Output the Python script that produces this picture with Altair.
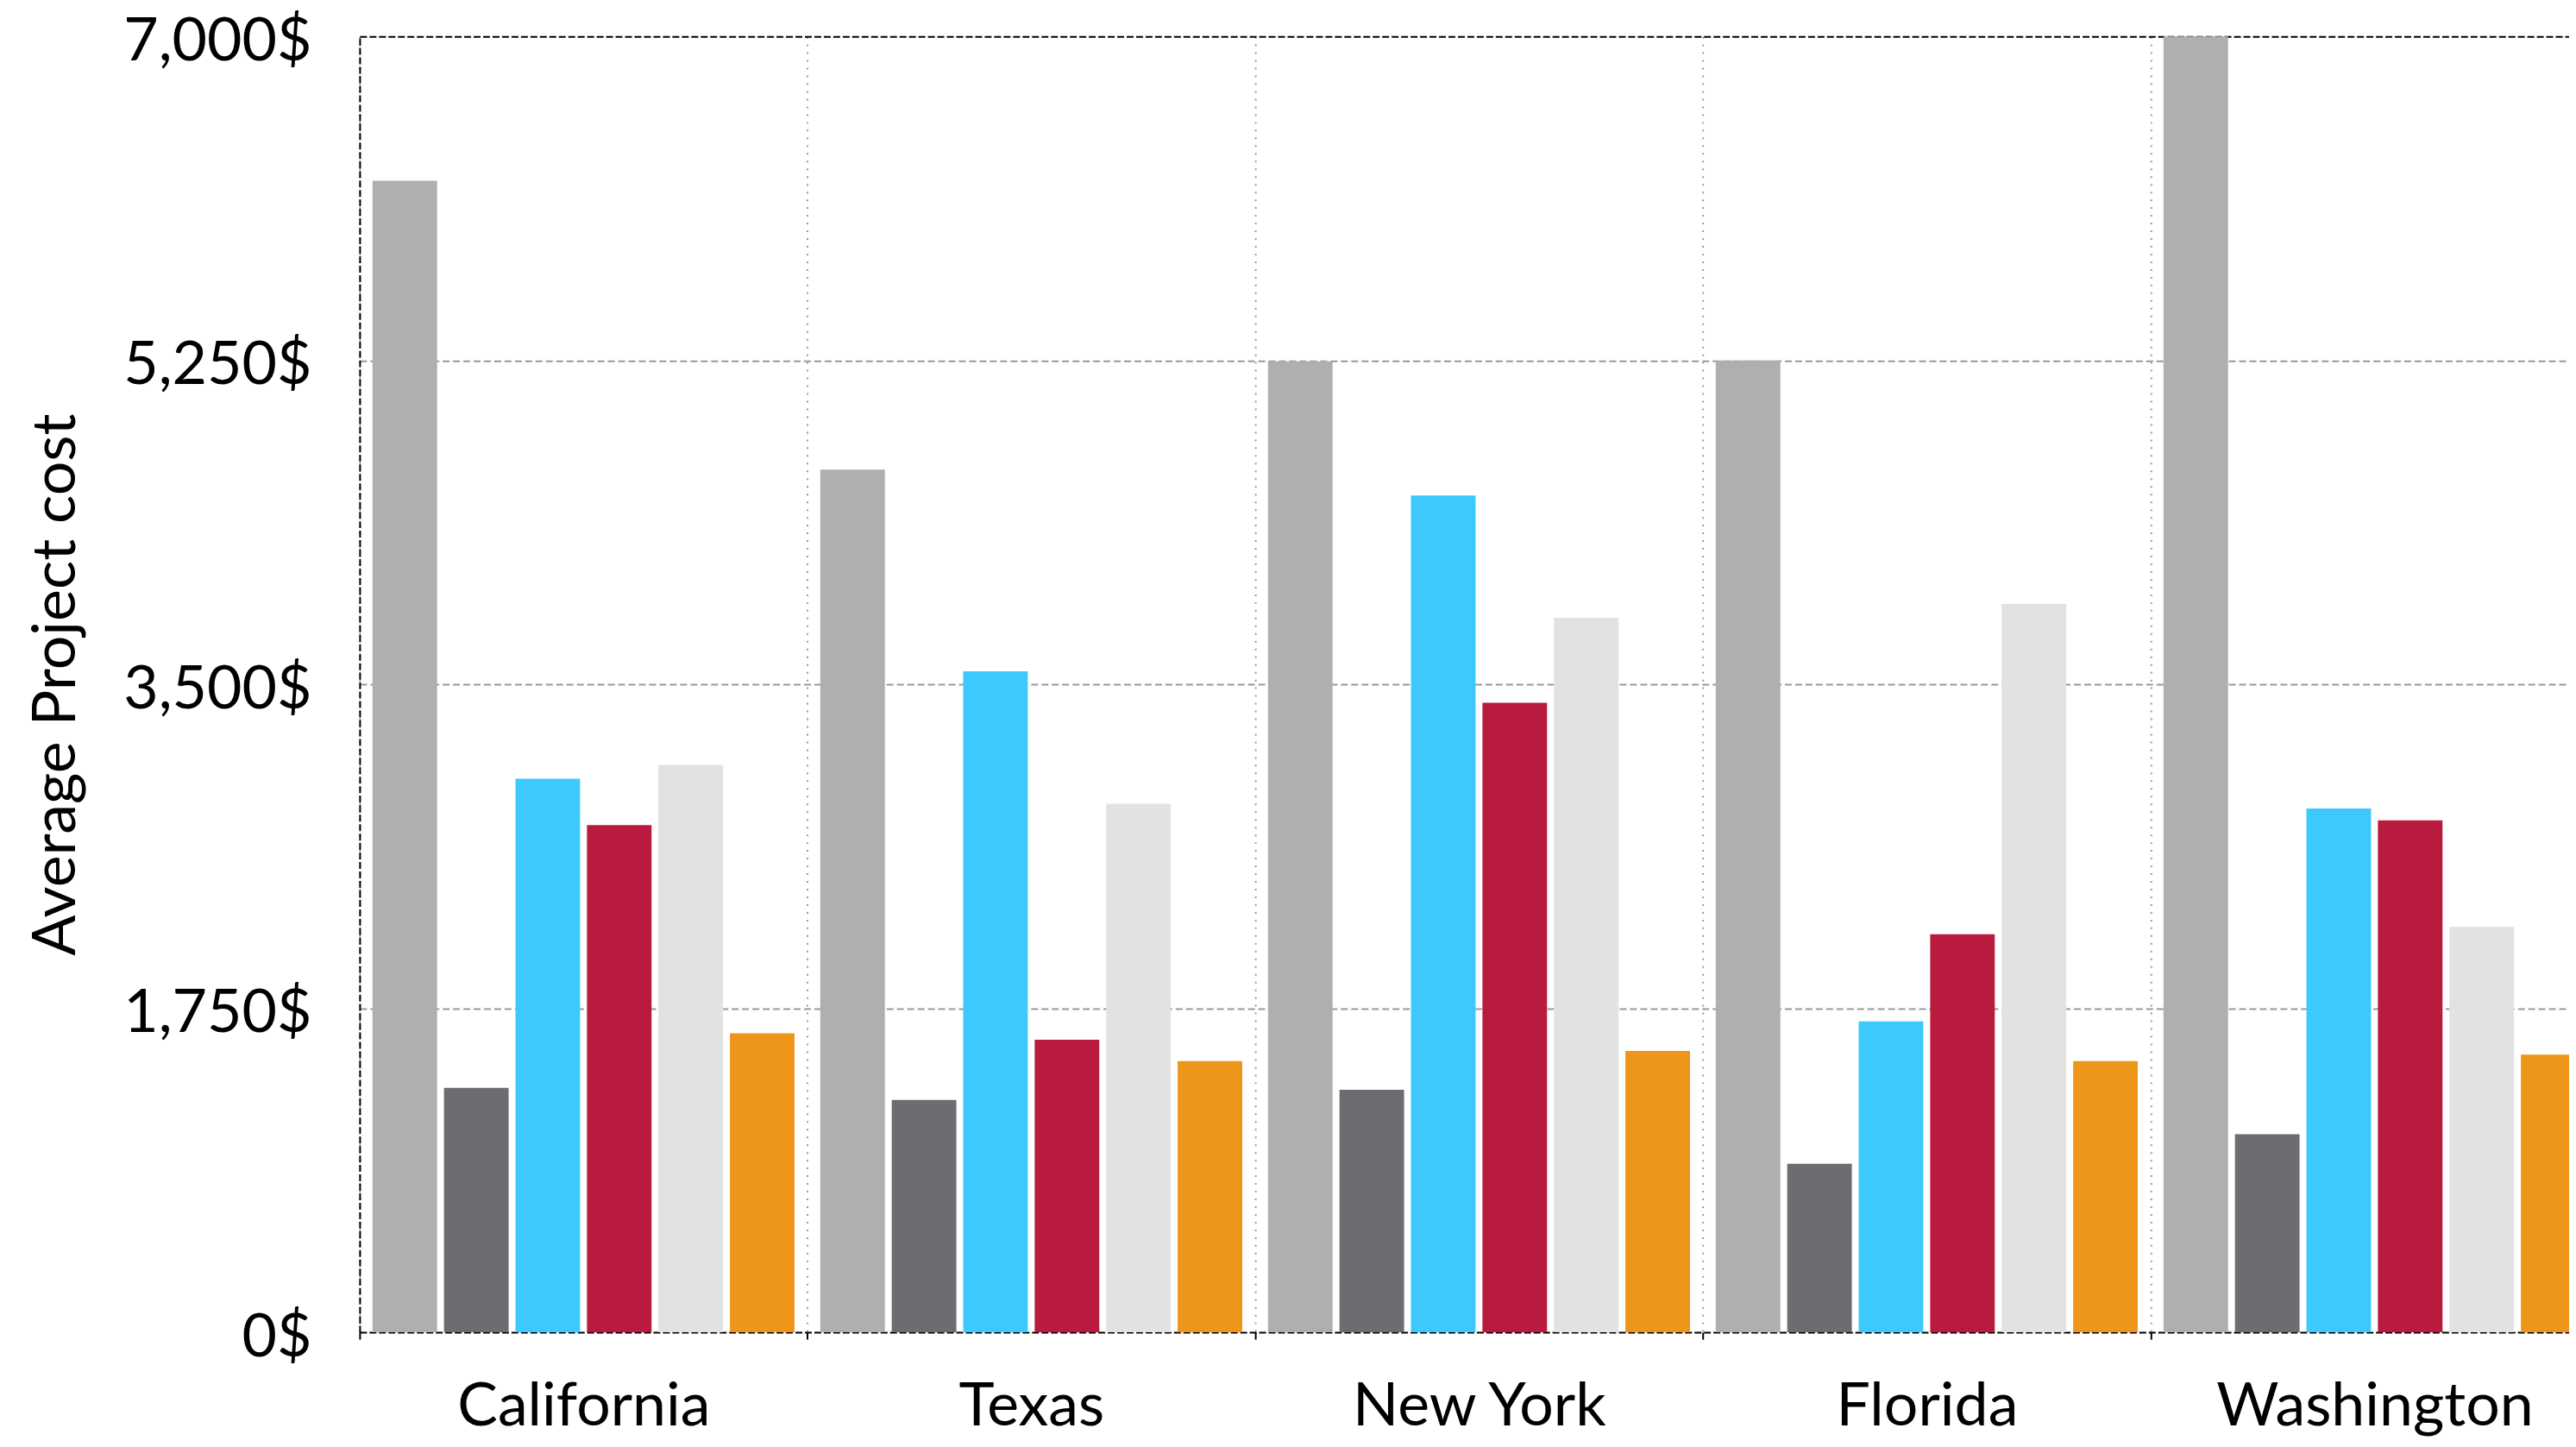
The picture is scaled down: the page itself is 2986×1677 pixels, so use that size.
import altair as alt
import pandas as pd

states = ["California", "Texas", "New York", "Florida", "Washington"]
series = ["Series 1", "Series 2", "Series 3", "Series 4", "Series 5", "Series 6"]
s1 = [6220, 4660, 5245, 5250, 7000]
s2 = [1320, 1255, 1310, 910, 1070]
s3 = [2990, 3570, 4520, 1680, 2830]
s4 = [2740, 1580, 3400, 2150, 2765]
s5 = [3065, 2855, 3860, 3935, 2190]
s6 = [1615, 1465, 1520, 1465, 1500]
colors = ["#AEAFAE", "#6D6C70", "#3EC9FD", "#B81B3E", "#E2E2E2", "#EE961A"]
y_ticks = [0, 1750, 3500, 5250, 7000]

rows = []
for name, vals in zip(series, [s1, s2, s3, s4, s5, s6]):
    for st, v in zip(states, vals):
        rows.append({"state": st, "series": name, "value": v})
df = pd.DataFrame(rows)

FONT = "Lato"
edge = "datum.value == 0 || datum.value == 7000"

chart = alt.Chart(df).mark_bar().encode(
    x=alt.X(
        "state:N", sort=states,
        scale=alt.Scale(paddingInner=0, paddingOuter=0, range=[0, 2602]),
        axis=alt.Axis(
            title=None, labelAngle=0, labelFont=FONT, labelFontSize=70,
            labelColor="black", labelLimit=0, labelBaseline="alphabetic",
            labelPadding=100, tickBand="extent",
            ticks=True, tickSize=8, tickColor="black", tickWidth=2,
            domain=False, grid=True, gridColor="#999999", gridDash=[2, 7],
            gridWidth=2,
        ),
    ),
    xOffset=alt.XOffset("series:N", sort=series,
                        scale=alt.Scale(paddingInner=0.096, paddingOuter=0.18)),
    y=alt.Y(
        "value:Q",
        scale=alt.Scale(domain=[0, 7000], nice=False),
        axis=alt.Axis(
            values=y_ticks, labelExpr="format(datum.value, ',') + '$'",
            labelFont=FONT, labelFontSize=70, labelColor="black",
            labelLimit=0, labelBaseline="alphabetic", labelOffset=27,
            labelPadding=56, ticks=False,
            domain=True, domainColor="black", domainDash=[8, 3], domainWidth=2,
            grid=True,
            gridColor=alt.condition(edge, alt.value("black"), alt.value("#999999")),
            gridDash=alt.condition(edge, alt.value([8, 3]), alt.value([8, 4])),
            gridWidth=2,
            title="Average Project cost", titleFont=FONT, titleFontSize=70,
            titleFontWeight="normal", titleColor="black",
            titleX=-352, titleY=753, titleAngle=270,
            titleAlign="center", titleBaseline="middle",
        ),
    ),
    color=alt.Color("series:N", scale=alt.Scale(domain=series, range=colors),
                    legend=None),
).properties(
    width=2568, height=1506,
    padding={"left": 410, "top": 32, "right": 0, "bottom": 123},
    autosize=alt.AutoSizeParams(type="none"),
).configure_view(stroke=None)

chart.save("out.html", embed_options={"renderer": "svg", "actions": False})
